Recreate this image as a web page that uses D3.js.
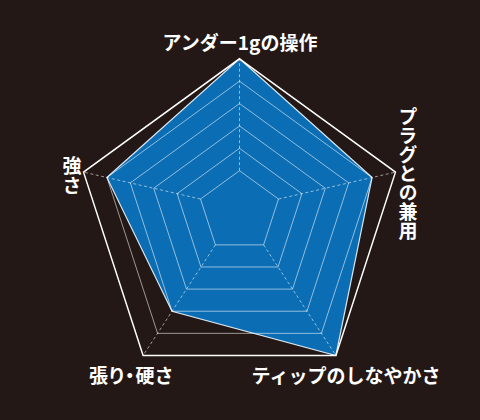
<!DOCTYPE html>
<html>
<head>
<meta charset="utf-8">
<script src="https://cdn.jsdelivr.net/npm/d3@7"></script>
<style>
  html, body { margin: 0; padding: 0; background: #231815; }
  .chart { width: 480px; height: 420px; }
</style>
</head>
<body>
<div class="chart"></div>
<script>
const axes = ['アンダー1gの操作', 'プラグとの兼用', 'ティップのしなやかさ', '張り・硬さ', '強さ'];
const values = [5, 4, 5, 3, 4];
const levels = [0, 1, 2, 3, 4, 5];

const config = {
  width: 480,
  height: 420,
  cx: 239.5,
  cy: 222.8,
  radius: 164,
  originY: 208, // rings shrink toward this point, not the pentagon centre
  font: '"Noto Sans CJK JP", "Noto Sans", sans-serif',
  fontSize: 19
};

// where each axis label sits; vertical ones start at y and run down
const labelLayout = [
  { x: 240, y: 41 },
  { x: 408, y: 107, vertical: true, spacing: 0 },
  { x: 346, y: 374 },
  { x: 131, y: 374, palt: true, spacing: 1 },
  { x: 72, y: 156, vertical: true, spacing: 1 }
];

const svg = d3.select('.chart')
  .append('svg')
  .attr('width', config.width)
  .attr('height', config.height)
  .attr('viewBox', `0 0 ${config.width} ${config.height}`);

svg.append('rect')
  .attr('width', config.width)
  .attr('height', config.height)
  .attr('fill', '#231815');

const angle = d3.scaleLinear()
  .domain([0, axes.length])
  .range([0, 2 * Math.PI]);

const scale = d3.scaleLinear()
  .domain([0, d3.max(levels)])
  .range([0.25, 1]);

function outerVertex(i) {
  const a = angle(i);
  return [config.cx + config.radius * Math.sin(a), config.cy - config.radius * Math.cos(a)];
}

function point(i, v) {
  const [vx, vy] = outerVertex(i);
  const s = scale(v);
  return [config.cx + s * (vx - config.cx), config.originY + s * (vy - config.originY)];
}

const line = d3.line().curve(d3.curveLinearClosed);

// data area
svg.append('path')
  .datum(values)
  .attr('d', d => line(d.map((v, i) => point(i, v))))
  .attr('fill', '#0b6db4')
  .attr('stroke', '#d8e6f2')
  .attr('stroke-width', 1.2)
  .attr('stroke-linejoin', 'miter');

// inner rings
svg.append('g')
  .selectAll('path')
  .data(levels.slice(0, -1))
  .join('path')
  .attr('d', lv => line(axes.map((a, i) => point(i, lv))))
  .attr('fill', 'none')
  .attr('stroke', '#fff')
  .attr('stroke-opacity', 0.55)
  .attr('stroke-width', 1);

// spokes
svg.append('g')
  .selectAll('line')
  .data(axes)
  .join('line')
  .attr('x1', (a, i) => point(i, levels[0])[0])
  .attr('y1', (a, i) => point(i, levels[0])[1])
  .attr('x2', (a, i) => point(i, d3.max(levels))[0])
  .attr('y2', (a, i) => point(i, d3.max(levels))[1])
  .attr('stroke', '#fff')
  .attr('stroke-opacity', 0.55)
  .attr('stroke-width', 1)
  .attr('stroke-dasharray', '3,2.5');

// outer ring
svg.append('path')
  .attr('d', line(axes.map((a, i) => point(i, d3.max(levels)))))
  .attr('fill', 'none')
  .attr('stroke', '#fff')
  .attr('stroke-width', 1.5);

// labels
const labels = svg.append('g')
  .attr('fill', '#fff')
  .attr('font-family', config.font)
  .attr('font-weight', 700)
  .attr('font-size', config.fontSize);

labels.selectAll('text')
  .data(axes)
  .join('text')
  .each(function(name, i) {
    const pos = labelLayout[i];
    const t = d3.select(this)
      .attr('x', pos.x)
      .attr('y', pos.y)
      .text(name);
    if (pos.vertical) {
      t.style('writing-mode', 'vertical-rl')
        .attr('text-anchor', 'start');
    } else {
      t.attr('text-anchor', 'middle')
        .attr('dominant-baseline', 'central');
    }
    if (pos.spacing) t.style('letter-spacing', `${pos.spacing}px`);
    if (pos.palt) t.style('font-feature-settings', '"palt"');
  });
</script>
</body>
</html>
